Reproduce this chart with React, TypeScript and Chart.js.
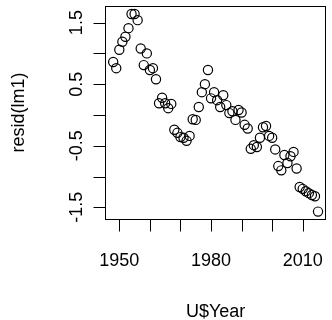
import React, { useEffect, useRef } from "react";
import { Chart, registerables } from "chart.js";

Chart.register(...registerables);

const years: number[] = [
  1948, 1949, 1950, 1951, 1952, 1953, 1954, 1955, 1956, 1957, 1958, 1959,
  1960, 1961, 1962, 1963, 1964, 1965, 1966, 1967, 1968, 1969, 1970, 1971,
  1972, 1973, 1974, 1975, 1976, 1977, 1978, 1979, 1980, 1981, 1982, 1983,
  1984, 1985, 1986, 1987, 1988, 1989, 1990, 1991, 1992, 1993, 1994, 1995,
  1996, 1997, 1998, 1999, 2000, 2001, 2002, 2003, 2004, 2005, 2006, 2007,
  2008, 2009, 2010, 2011, 2012, 2013, 2014, 2015,
];

const resid: number[] = [
  0.86, 0.76, 1.06, 1.19, 1.27, 1.41, 1.64, 1.64, 1.54, 1.08, 0.81, 1.0,
  0.73, 0.76, 0.58, 0.19, 0.28, 0.19, 0.11, 0.18, -0.24, -0.29, -0.36, -0.37,
  -0.42, -0.34, -0.07, -0.08, 0.13, 0.37, 0.5, 0.73, 0.27, 0.37, 0.24, 0.13,
  0.32, 0.16, 0.03, 0.06, -0.08, 0.08, 0.04, -0.16, -0.22, -0.55, -0.49, -0.52,
  -0.37, -0.2, -0.18, -0.34, -0.37, -0.56, -0.83, -0.9, -0.65, -0.78, -0.67, -0.6,
  -0.87, -1.17, -1.2, -1.24, -1.27, -1.3, -1.32, -1.57,
];

const xTicks: number[] = [1950, 1960, 1970, 1980, 1990, 2000, 2010];
const xTickLabels: string[] = ["1950", "", "", "1980", "", "", "2010"];
const yTicks: number[] = [-1.5, -1, -0.5, 0, 0.5, 1, 1.5];
const yTickLabels: string[] = ["-1.5", "", "-0.5", "", "0.5", "", "1.5"];
const xTitle = "U$Year";
const yTitle = "resid(lm1)";

const FONT = '18px "Liberation Sans", Arial, sans-serif';

const rAxesPlugin = {
  id: "rAxes",
  afterDraw(chart: any) {
    const ctx = chart.ctx as CanvasRenderingContext2D;
    const area = chart.chartArea;
    const xs = chart.scales.x;
    const ys = chart.scales.y;
    ctx.save();
    ctx.strokeStyle = "#000";
    ctx.fillStyle = "#000";
    ctx.lineWidth = 1;
    ctx.strokeRect(
      Math.round(area.left) + 0.5,
      Math.round(area.top) + 0.5,
      Math.round(area.right - area.left) - 1,
      Math.round(area.bottom - area.top)
    );
    const tickLen = 12;
    ctx.font = FONT;
    const xb = Math.round(area.bottom) + 0.5;
    ctx.beginPath();
    xTicks.forEach((t) => {
      const px = Math.round(xs.getPixelForValue(t)) + 0.5;
      ctx.moveTo(px, xb);
      ctx.lineTo(px, xb + tickLen);
    });
    ctx.stroke();
    ctx.textAlign = "center";
    ctx.textBaseline = "alphabetic";
    xTicks.forEach((t, i) => {
      if (!xTickLabels[i]) return;
      ctx.fillText(xTickLabels[i], xs.getPixelForValue(t), 266);
    });
    ctx.fillText(xTitle, (area.left + area.right) / 2, 317);
    const yl = Math.round(area.left) + 0.5;
    ctx.beginPath();
    yTicks.forEach((t) => {
      const py = Math.round(ys.getPixelForValue(t)) + 0.5;
      ctx.moveTo(yl, py);
      ctx.lineTo(yl - tickLen, py);
    });
    ctx.stroke();
    yTicks.forEach((t, i) => {
      if (!yTickLabels[i]) return;
      ctx.save();
      ctx.translate(82, ys.getPixelForValue(t));
      ctx.rotate(-Math.PI / 2);
      ctx.textAlign = "center";
      ctx.fillText(yTickLabels[i], 0, 0);
      ctx.restore();
    });
    ctx.save();
    ctx.translate(24, (area.top + area.bottom) / 2);
    ctx.rotate(-Math.PI / 2);
    ctx.textAlign = "center";
    ctx.fillText(yTitle, 0, 0);
    ctx.restore();
    ctx.restore();
  },
};

export default function App() {
  const ref = useRef<HTMLCanvasElement | null>(null);
  useEffect(() => {
    if (!ref.current) return;
    const chart = new Chart(ref.current, {
      type: "scatter",
      data: {
        datasets: [
          {
            data: years.map((y, i) => ({ x: y, y: resid[i] })),
            pointRadius: 4.6,
            pointHoverRadius: 4.6,
            borderColor: "#000",
            backgroundColor: "rgba(0,0,0,0)",
            borderWidth: 1.2,
          },
        ],
      },
      options: {
        responsive: false,
        animation: false,
        events: [],
        layout: { padding: { left: 105, top: 6, right: 1.3, bottom: 101 } },
        plugins: { legend: { display: false }, tooltip: { enabled: false } },
        scales: {
          x: { type: "linear", min: 1945.32, max: 2017.68, display: false },
          y: { type: "linear", min: -1.69, max: 1.77, display: false },
        },
      },
      plugins: [rAxesPlugin],
    });
    return () => chart.destroy();
  }, []);
  return (
    <div style={{ position: "fixed", left: 0, top: 0, width: 332, height: 320, background: "#fff" }}>
      <canvas ref={ref} width={332} height={320} style={{ width: 332, height: 320 }} />
    </div>
  );
}
